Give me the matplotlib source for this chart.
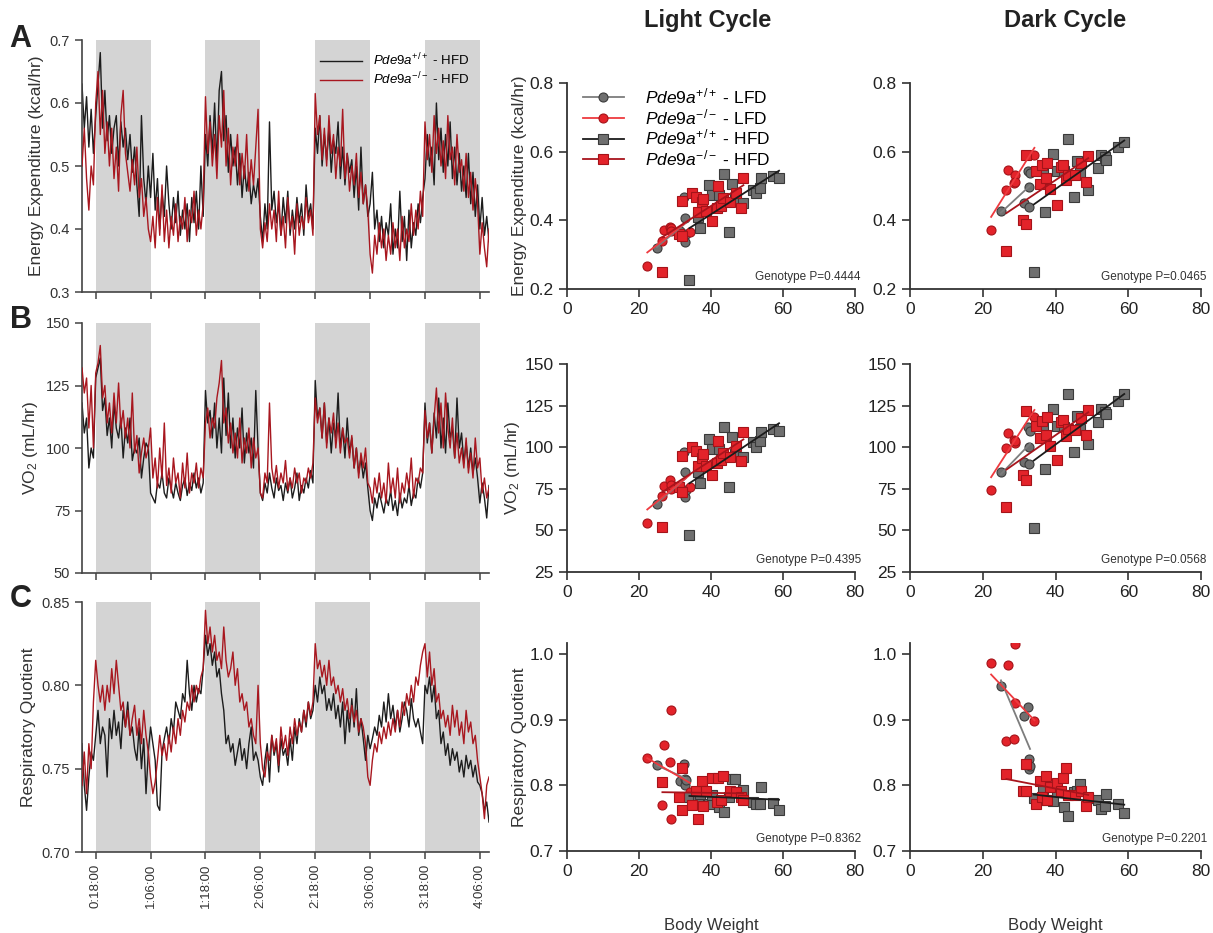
import numpy as np
import matplotlib
matplotlib.use("Agg")
import matplotlib.pyplot as plt
from matplotlib.lines import Line2D

plt.rcParams['font.family'] = ['Liberation Sans', 'DejaVu Sans']
plt.rcParams['mathtext.fontset'] = 'custom'
plt.rcParams['mathtext.rm'] = 'Liberation Sans'
plt.rcParams['mathtext.it'] = 'Liberation Sans:italic'

# ---------------- time series (hours, 0.5 h sampling from 15 h) ----------------
t0, dt = 15.0, 0.5
dark_start = [18, 42, 66, 90]
tick_hours = [18, 30, 42, 54, 66, 78, 90, 102]
tick_labels = ["0:18:00", "1:06:00", "1:18:00", "2:06:00",
               "2:18:00", "3:06:00", "3:18:00", "4:06:00"]

ee_wt = [0.63, 0.56, 0.61, 0.53, 0.59, 0.52,
         0.58, 0.63, 0.68, 0.56, 0.62, 0.54, 0.58, 0.52, 0.56, 0.58, 0.50, 0.57, 0.53, 0.56, 0.51, 0.55, 0.49, 0.53, 0.47, 0.42, 0.58, 0.48, 0.44, 0.50,
         0.45, 0.52, 0.43, 0.48, 0.40, 0.46, 0.42, 0.50, 0.44, 0.40, 0.45, 0.41, 0.46, 0.39, 0.43, 0.40, 0.44, 0.38, 0.45, 0.41, 0.46, 0.40, 0.50, 0.42,
         0.55, 0.50, 0.58, 0.52, 0.60, 0.50, 0.62, 0.65, 0.54, 0.58, 0.49, 0.55, 0.50, 0.53, 0.47, 0.52, 0.45, 0.50, 0.46, 0.49, 0.44, 0.47, 0.45, 0.48,
         0.42, 0.38, 0.44, 0.40, 0.57, 0.43, 0.46, 0.41, 0.44, 0.39, 0.45, 0.41, 0.46, 0.39, 0.43, 0.40, 0.45, 0.41, 0.44, 0.39, 0.47, 0.42, 0.44, 0.40,
         0.56, 0.52, 0.58, 0.50, 0.55, 0.51, 0.56, 0.49, 0.54, 0.52, 0.57, 0.48, 0.53, 0.47, 0.52, 0.49, 0.51, 0.45, 0.50, 0.43, 0.53, 0.44, 0.47, 0.42,
         0.44, 0.49, 0.40, 0.43, 0.38, 0.42, 0.37, 0.41, 0.39, 0.44, 0.36, 0.40, 0.37, 0.46, 0.38, 0.42, 0.35, 0.43, 0.37, 0.41, 0.39, 0.44, 0.41, 0.45,
         0.48, 0.55, 0.50, 0.53, 0.47, 0.60, 0.51, 0.56, 0.49, 0.55, 0.50, 0.57, 0.48, 0.53, 0.47, 0.52, 0.46, 0.50, 0.45, 0.52, 0.44, 0.49, 0.42, 0.47,
         0.40, 0.45, 0.39, 0.42, 0.38]
ee_ko = [0.50, 0.56, 0.48, 0.43, 0.50, 0.47,
         0.60, 0.65, 0.55, 0.62, 0.52, 0.57, 0.50, 0.56, 0.48, 0.53, 0.46, 0.58, 0.62, 0.52, 0.49, 0.46, 0.51, 0.47, 0.53, 0.45, 0.48, 0.42, 0.45, 0.40,
         0.38, 0.42, 0.37, 0.45, 0.39, 0.47, 0.38, 0.43, 0.37, 0.42, 0.39, 0.44, 0.38, 0.42, 0.40, 0.45, 0.38, 0.43, 0.41, 0.46, 0.39, 0.43, 0.40, 0.44,
         0.61, 0.52, 0.57, 0.50, 0.55, 0.48, 0.58, 0.53, 0.62, 0.50, 0.56, 0.47, 0.53, 0.50, 0.55, 0.47, 0.52, 0.48, 0.55, 0.46, 0.51, 0.47, 0.53, 0.59,
         0.40, 0.37, 0.41, 0.38, 0.44, 0.40, 0.43, 0.38, 0.46, 0.39, 0.42, 0.37, 0.45, 0.40, 0.42, 0.36, 0.44, 0.39, 0.42, 0.40, 0.45, 0.41, 0.43, 0.39,
         0.615, 0.55, 0.58, 0.51, 0.56, 0.50, 0.58, 0.52, 0.55, 0.48, 0.53, 0.50, 0.59, 0.48, 0.52, 0.46, 0.50, 0.47, 0.52, 0.45, 0.49, 0.44, 0.47, 0.43,
         0.36, 0.33, 0.39, 0.36, 0.41, 0.37, 0.40, 0.35, 0.39, 0.36, 0.41, 0.37, 0.40, 0.35, 0.42, 0.37, 0.40, 0.38, 0.44, 0.39, 0.43, 0.40, 0.46, 0.42,
         0.57, 0.51, 0.55, 0.49, 0.58, 0.52, 0.56, 0.50, 0.54, 0.48, 0.58, 0.51, 0.53, 0.47, 0.55, 0.49, 0.51, 0.46, 0.52, 0.45, 0.49, 0.43, 0.48, 0.44,
         0.36, 0.41, 0.37, 0.34, 0.40]

vo2_wt = [118, 106, 112, 92, 100, 96,
          128, 132, 136, 115, 120, 105, 112, 100, 118, 108, 104, 112, 96, 108, 102, 112, 95, 100, 98, 104, 88, 96, 102, 100,
          82, 80, 78, 86, 84, 90, 82, 80, 88, 84, 80, 86, 82, 79, 85, 88, 81, 86, 83, 90, 84, 88, 82, 86,
          123, 110, 115, 104, 118, 100, 112, 98, 128, 105, 122, 100, 112, 96, 108, 100, 116, 94, 106, 98, 104, 92, 123, 100,
          82, 79, 86, 82, 90, 84, 80, 88, 83, 85, 79, 86, 82, 88, 80, 84, 90, 79, 85, 82, 88, 84, 91, 86,
          127, 112, 116, 104, 118, 102, 112, 98, 110, 104, 122, 100, 108, 96, 112, 98, 104, 92, 100, 90, 96, 88, 94, 84,
          75, 71, 80, 76, 82, 78, 74, 80, 77, 83, 75, 79, 73, 82, 76, 80, 78, 85, 77, 82, 80, 88, 84, 90,
          118, 102, 110, 98, 114, 104, 120, 100, 112, 98, 118, 104, 108, 96, 120, 100, 106, 94, 102, 92, 100, 90, 96, 88,
          78, 86, 80, 72, 85]
vo2_ko = [132, 122, 128, 108, 125, 100,
          130, 134, 141, 120, 125, 110, 118, 106, 122, 110, 126, 108, 115, 104, 112, 100, 122, 98, 105, 90, 98, 104, 96, 100,
          108, 88, 96, 84, 100, 88, 110, 85, 92, 82, 96, 86, 90, 80, 94, 84, 98, 82, 90, 86, 94, 84, 92, 88,
          110, 116, 104, 112, 108, 120, 126, 135, 110, 116, 102, 110, 98, 106, 96, 112, 94, 104, 98, 108, 92, 104, 96, 100,
          82, 80, 90, 86, 118, 92, 86, 93, 84, 90, 86, 95, 83, 88, 84, 92, 86, 90, 82, 88, 86, 92, 88, 94,
          120, 110, 116, 104, 118, 100, 112, 106, 114, 100, 110, 98, 108, 102, 104, 96, 105, 92, 100, 88, 98, 92, 100, 86,
          84, 78, 88, 82, 90, 80, 86, 78, 94, 82, 88, 80, 92, 78, 86, 82, 90, 84, 96, 80, 88, 86, 92, 90,
          115, 104, 110, 98, 112, 124, 106, 118, 100, 122, 108, 100, 112, 96, 106, 94, 100, 92, 104, 90, 98, 88, 104, 92,
          96, 82, 88, 80, 84]

rq_wt = [0.765, 0.74, 0.725, 0.745, 0.76, 0.755,
         0.77, 0.785, 0.765, 0.775, 0.77, 0.745, 0.78, 0.768, 0.785, 0.77, 0.778, 0.762, 0.785, 0.775, 0.79, 0.77, 0.775, 0.762, 0.755, 0.775, 0.75, 0.768, 0.735, 0.76,
         0.775, 0.765, 0.755, 0.728, 0.725, 0.76, 0.768, 0.775, 0.765, 0.78, 0.772, 0.79, 0.785, 0.78, 0.795, 0.79, 0.815, 0.795, 0.785, 0.80, 0.79, 0.798, 0.795, 0.81,
         0.83, 0.818, 0.825, 0.812, 0.82, 0.805, 0.81, 0.795, 0.785, 0.765, 0.77, 0.76, 0.765, 0.752, 0.76, 0.768, 0.755, 0.762, 0.75, 0.765, 0.775, 0.755, 0.76, 0.755,
         0.745, 0.74, 0.755, 0.765, 0.742, 0.77, 0.758, 0.765, 0.748, 0.768, 0.758, 0.762, 0.752, 0.768, 0.755, 0.775, 0.765, 0.78, 0.772, 0.785, 0.775, 0.79, 0.78, 0.785,
         0.80, 0.79, 0.805, 0.795, 0.80, 0.785, 0.792, 0.785, 0.795, 0.78, 0.788, 0.775, 0.79, 0.765, 0.785, 0.772, 0.792, 0.775, 0.798, 0.77, 0.78, 0.768, 0.755, 0.77,
         0.762, 0.768, 0.775, 0.77, 0.782, 0.775, 0.79, 0.778, 0.795, 0.78, 0.788, 0.775, 0.785, 0.772, 0.78, 0.79, 0.785, 0.775, 0.792, 0.78, 0.775, 0.78, 0.772, 0.765,
         0.80, 0.795, 0.805, 0.79, 0.80, 0.78, 0.785, 0.765, 0.772, 0.758, 0.765, 0.752, 0.762, 0.755, 0.76, 0.748, 0.755, 0.745, 0.758, 0.75, 0.755, 0.745, 0.752, 0.742,
         0.74, 0.735, 0.725, 0.73, 0.718]
rq_ko = [0.74, 0.76, 0.735, 0.765, 0.75, 0.79,
         0.815, 0.80, 0.79, 0.80, 0.785, 0.80, 0.79, 0.81, 0.795, 0.815, 0.80, 0.785, 0.79, 0.775, 0.785, 0.77, 0.78, 0.788, 0.77, 0.78, 0.765, 0.785, 0.77, 0.76,
         0.745, 0.735, 0.742, 0.755, 0.77, 0.758, 0.765, 0.755, 0.77, 0.76, 0.775, 0.765, 0.78, 0.77, 0.785, 0.778, 0.79, 0.785, 0.80, 0.79, 0.80, 0.795, 0.805, 0.81,
         0.845, 0.825, 0.835, 0.82, 0.83, 0.815, 0.82, 0.81, 0.835, 0.815, 0.805, 0.81, 0.82, 0.80, 0.81, 0.79, 0.795, 0.785, 0.79, 0.775, 0.78, 0.77, 0.765, 0.80,
         0.765, 0.75, 0.745, 0.76, 0.755, 0.77, 0.76, 0.768, 0.752, 0.775, 0.762, 0.77, 0.758, 0.775, 0.765, 0.78, 0.77, 0.778, 0.772, 0.785, 0.778, 0.79, 0.782, 0.79,
         0.825, 0.81, 0.815, 0.805, 0.812, 0.80, 0.815, 0.80, 0.805, 0.795, 0.80, 0.79, 0.798, 0.785, 0.792, 0.78, 0.788, 0.778, 0.785, 0.772, 0.78, 0.775, 0.765, 0.745,
         0.74, 0.755, 0.765, 0.76, 0.772, 0.765, 0.775, 0.768, 0.778, 0.77, 0.78, 0.772, 0.785, 0.775, 0.79, 0.782, 0.795, 0.788, 0.80, 0.79, 0.805, 0.80, 0.812, 0.82,
         0.825, 0.805, 0.82, 0.80, 0.81, 0.79, 0.795, 0.78, 0.785, 0.775, 0.782, 0.77, 0.788, 0.775, 0.785, 0.77, 0.778, 0.765, 0.785, 0.772, 0.778, 0.765, 0.77, 0.755,
         0.745, 0.735, 0.72, 0.74, 0.745]

# ---------------- body weight scatter data ----------------
bw_wt_lfd = [25.0, 31.3, 32.5, 32.7, 32.8, 33.0]
bw_ko_lfd = [22.3, 26.4, 27.0, 28.7, 28.9, 29.0, 34.2]
bw_wt_hfd = [34.0, 36.5, 37.0, 39.4, 40.3, 42.3, 43.5, 45.0, 45.8, 46.7, 48.8,
             51.8, 52.4, 53.7, 54.0, 57.1, 58.9]
bw_ko_hfd = [26.5, 31.1, 31.9, 32.0, 34.7, 35.7, 36.4, 37.4, 37.7, 38.5, 40.3,
             41.6, 42.0, 42.9, 43.4, 45.3, 46.9, 48.3, 49.0]

ee_light = {
    "wt_lfd": [0.32, 0.37, 0.468, 0.407, 0.336, 0.36],
    "ko_lfd": [0.267, 0.34, 0.373, 0.382, 0.377, 0.37, 0.365],
    "wt_hfd": [0.226, 0.409, 0.377, 0.504, 0.474, 0.474, 0.535, 0.367, 0.507, 0.462, 0.45,
               0.489, 0.479, 0.494, 0.522, 0.528, 0.522],
    "ko_hfd": [0.25, 0.36, 0.353, 0.455, 0.48, 0.469, 0.424, 0.452, 0.462, 0.428, 0.399,
               0.437, 0.50, 0.442, 0.466, 0.454, 0.481, 0.437, 0.522],
}
ee_dark = {
    "wt_lfd": [0.428, 0.451, 0.545, 0.498, 0.44, 0.539],
    "ko_lfd": [0.373, 0.488, 0.548, 0.51, 0.532, 0.512, 0.59],
    "wt_hfd": [0.249, 0.547, 0.423, 0.592, 0.544, 0.545, 0.636, 0.467, 0.573, 0.537, 0.489,
               0.551, 0.591, 0.585, 0.577, 0.614, 0.629],
    "ko_hfd": [0.312, 0.402, 0.389, 0.589, 0.544, 0.507, 0.56, 0.523, 0.568, 0.491, 0.445,
               0.554, 0.561, 0.518, 0.532, 0.532, 0.566, 0.513, 0.587],
}
vo2_light = {
    "wt_lfd": [66, 76, 97, 85, 70, 74],
    "ko_lfd": [54.5, 70.6, 76.4, 80, 74.6, 77, 76],
    "wt_hfd": [47, 85, 78.4, 105, 99, 99, 112, 76, 106, 96, 94, 103, 100, 104, 109, 111, 110],
    "ko_hfd": [52, 76, 73, 95, 100, 97.6, 88.6, 93.6, 96, 89, 83, 90.6, 103.6, 92.6, 96.6,
               94, 100.6, 92, 109],
}
vo2_dark = {
    "wt_lfd": [85, 91, 112, 100, 90, 110],
    "ko_lfd": [74, 99.5, 108.6, 104.6, 102.3, 104, 118],
    "wt_hfd": [51.4, 113, 87, 123, 113, 112, 132, 97, 119, 111, 102, 115, 123, 121, 120, 128, 132],
    "ko_hfd": [64, 83, 80, 121.6, 112.8, 105.4, 115.8, 107.6, 118, 101, 92.4, 115, 116.4, 107,
               111, 110.4, 117.4, 107.4, 122.4],
}
rq_light = {
    "wt_lfd": [0.831, 0.807, 0.833, 0.81, 0.801, 0.808],
    "ko_lfd": [0.841, 0.77, 0.862, 0.835, 0.915, 0.749, 0.79],
    "wt_hfd": [0.782, 0.778, 0.787, 0.772, 0.785, 0.767, 0.759, 0.783, 0.81, 0.81, 0.793,
               0.775, 0.772, 0.772, 0.798, 0.773, 0.762],
    "ko_hfd": [0.805, 0.783, 0.762, 0.826, 0.77, 0.791, 0.749, 0.806, 0.768, 0.791, 0.812,
               0.774, 0.812, 0.778, 0.815, 0.791, 0.79, 0.783, 0.778],
}
rq_dark = {
    "wt_lfd": [0.952, 0.906, 0.92, 0.84, 0.825, 0.83],
    "ko_lfd": [0.987, 0.868, 0.983, 0.87, 1.015, 0.925, 0.898],
    "wt_hfd": [0.781, 0.794, 0.778, 0.776, 0.791, 0.767, 0.754, 0.79, 0.792, 0.802, 0.781,
               0.778, 0.764, 0.769, 0.787, 0.771, 0.758],
    "ko_hfd": [0.818, 0.791, 0.791, 0.833, 0.772, 0.806, 0.783, 0.815, 0.778, 0.797, 0.804,
               0.791, 0.811, 0.826, 0.785, 0.785, 0.791, 0.768, 0.783],
}
p_values = [["0.4444", "0.0465"], ["0.4395", "0.0568"], ["0.8362", "0.2201"]]

groups = ["wt_lfd", "ko_lfd", "wt_hfd", "ko_hfd"]
weights = {"wt_lfd": bw_wt_lfd, "ko_lfd": bw_ko_lfd, "wt_hfd": bw_wt_hfd, "ko_hfd": bw_ko_hfd}
style = {
    "wt_lfd": dict(marker="o", fc="#6f6f6f", ec="#3a3a3a", lc="#7d7d7d"),
    "ko_lfd": dict(marker="o", fc="#e3232a", ec="#a51319", lc="#ee3a3f"),
    "wt_hfd": dict(marker="s", fc="#6f6f6f", ec="#3a3a3a", lc="#1b1b1b"),
    "ko_hfd": dict(marker="s", fc="#e3232a", ec="#a51319", lc="#a8141c"),
}
labels = {
    "wt_lfd": r"$\mathit{Pde9a}^{+/+}$ - LFD",
    "ko_lfd": r"$\mathit{Pde9a}^{-/-}$ - LFD",
    "wt_hfd": r"$\mathit{Pde9a}^{+/+}$ - HFD",
    "ko_hfd": r"$\mathit{Pde9a}^{-/-}$ - HFD",
}

fig = plt.figure(figsize=(12.13, 9.33), dpi=100)
W, H = 1213.0, 933.0


def box(x0, x1, y_top, y_bot):
    return [x0 / W, 1 - y_bot / H, (x1 - x0) / W, (y_bot - y_top) / H]


# ---------------- left: time series ----------------
left_rows = [
    (ee_wt, ee_ko, (0.3, 0.7), np.arange(0.3, 0.71, 0.1), "{:.1f}", "Energy Expenditure (kcal/hr)", (40, 292)),
    (vo2_wt, vo2_ko, (50, 150), np.arange(50, 151, 25), "{:.0f}", r"VO$_2$ (mL/hr)", (323, 573)),
    (rq_wt, rq_ko, (0.70, 0.85), np.arange(0.70, 0.851, 0.05), "{:.2f}", "Respiratory Quotient", (602, 852)),
]
for i, (wt, ko, ylim, yt, fmt, ylab, (yt_px, yb_px)) in enumerate(left_rows):
    ax = fig.add_axes(box(82, 489, yt_px, yb_px))
    for s in dark_start:
        ax.axvspan(s, s + 12, color="#d4d4d4", lw=0, zorder=0)
    ax.plot(t0 + dt * np.arange(len(wt)), wt, color="#1c1c1c", lw=1.0, zorder=2, label=labels["wt_hfd"])
    ax.plot(t0 + dt * np.arange(len(ko)), ko, color="#a8171f", lw=1.0, zorder=3, label=labels["ko_hfd"])
    ax.set_xlim(15, 104)
    ax.set_ylim(*ylim)
    ax.set_yticks(yt)
    ax.set_yticklabels([fmt.format(v) for v in yt], fontsize=10.5, color="#333333")
    ax.set_xticks(tick_hours)
    if i == 2:
        ax.set_xticklabels(tick_labels, rotation=90, fontsize=9.5, color="#333333")
    else:
        ax.set_xticklabels([])
    ax.set_ylabel(ylab, fontsize=12.5, color="#333333")
    for sp in ["top", "right"]:
        ax.spines[sp].set_visible(False)
    for sp in ["left", "bottom"]:
        ax.spines[sp].set_color("#444444")
        ax.spines[sp].set_linewidth(1.2)
    ax.tick_params(direction="out", length=5, width=1.1, color="#444444")
    if i == 0:
        ax.legend(loc="upper right", bbox_to_anchor=(0.98, 1.0), frameon=False,
                  fontsize=9.5, handlelength=3.2, labelspacing=0.2)

# ---------------- right: scatter vs body weight ----------------
right_rows = [
    (ee_light, ee_dark, (0.2, 0.8), [0.2, 0.4, 0.6, 0.8], "{:.1f}", "Energy Expenditure (kcal/hr)", (83, 289)),
    (vo2_light, vo2_dark, (25, 150), [25, 50, 75, 100, 125, 150], "{:.0f}", r"VO$_2$ (mL/hr)", (364, 572)),
    (rq_light, rq_dark, (0.7, 1.017), [0.7, 0.8, 0.9, 1.0], "{:.1f}", "Respiratory Quotient", (643, 851)),
]
cols = [(567, 855), (910, 1201)]
for r, (light, dark, ylim, yt, fmt, ylab, (yt_px, yb_px)) in enumerate(right_rows):
    for c, data in enumerate([light, dark]):
        ax = fig.add_axes(box(cols[c][0], cols[c][1], yt_px, yb_px))
        for g in groups:
            st = style[g]
            x = np.array(weights[g])
            y = np.array(data[g])
            ax.plot(x, y, ls="none", marker=st["marker"], ms=6.5, mfc=st["fc"],
                    mec=st["ec"], mew=0.8, zorder=2)
            k, b = np.polyfit(x, y, 1)
            xs = np.array([x.min(), x.max()])
            ax.plot(xs, k * xs + b, color=st["lc"], lw=1.3, zorder=3)
        ax.set_xlim(0, 80)
        ax.set_ylim(*ylim)
        ax.set_xticks([0, 20, 40, 60, 80])
        ax.set_yticks(yt)
        ax.set_yticklabels([fmt.format(v) for v in yt])
        ax.tick_params(labelsize=12.5, direction="out", length=6, width=1.2,
                       color="#333333", labelcolor="#222222")
        for sp in ["top", "right"]:
            ax.spines[sp].set_visible(False)
        for sp in ["left", "bottom"]:
            ax.spines[sp].set_color("#333333")
            ax.spines[sp].set_linewidth(1.3)
        ax.text(1.02, 0.03, "Genotype P=" + p_values[r][c], transform=ax.transAxes,
                ha="right", va="bottom", fontsize=8.5, color="#333333")
        if c == 0:
            ax.set_ylabel(ylab, fontsize=12.5, color="#333333", labelpad=2)
        if r == 2:
            ax.set_xlabel("Body Weight", fontsize=12, color="#333333", labelpad=28)
        if r == 0 and c == 0:
            handles = [Line2D([0], [0], color=style[g]["lc"], lw=1.3, marker=style[g]["marker"],
                              ms=6.5, mfc=style[g]["fc"], mec=style[g]["ec"], mew=0.8)
                       for g in groups]
            ax.legend(handles, [labels[g] for g in groups], loc="upper left",
                      bbox_to_anchor=(0.0, 1.06), frameon=False, fontsize=12.5,
                      handlelength=2.4, labelspacing=0.05, handletextpad=1.2)

fig.text(0.583, 0.978, "Light Cycle", ha="center", va="center", fontsize=17, fontweight="bold", color="#222222")
fig.text(0.878, 0.978, "Dark Cycle", ha="center", va="center", fontsize=17, fontweight="bold", color="#222222")
for letter, yy in [("A", 0.958), ("B", 0.657), ("C", 0.358)]:
    fig.text(0.008, yy, letter, ha="left", va="center", fontsize=22, fontweight="bold", color="#222222")

fig.savefig("out.png", dpi=100)
